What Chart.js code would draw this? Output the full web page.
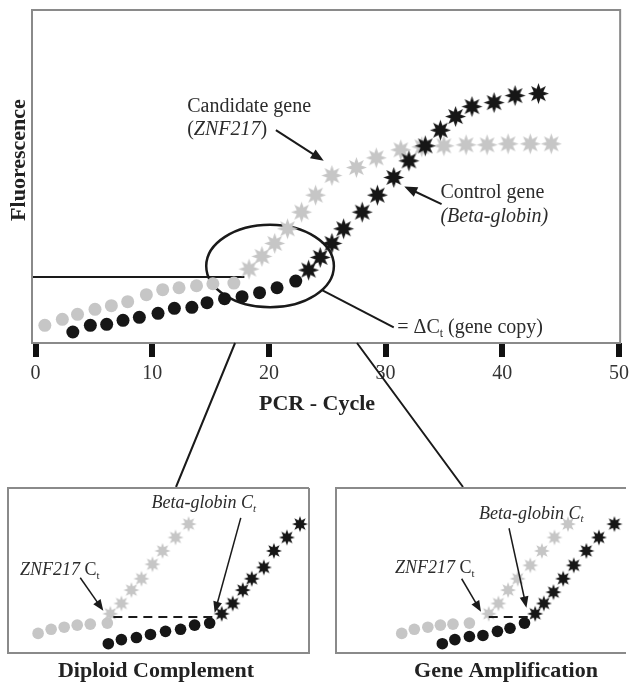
<!DOCTYPE html>
<html>
<head>
<meta charset="utf-8">
<script src="https://cdn.jsdelivr.net/npm/chart.js@4.4.0/dist/chart.umd.min.js"></script>
<style>
  html, body { margin: 0; padding: 0; background: #fff; overflow: hidden; }
  #wrap { position: relative; width: 634px; height: 688px; }
  canvas { position: absolute; }
</style>
</head>
<body>
<div id="wrap">
  <canvas id="mainChart" width="634" height="688" style="left:0;top:0"></canvas>
  <canvas id="diploidChart" width="317" height="208" style="left:0;top:480px"></canvas>
  <canvas id="ampChart" width="314" height="208" style="left:320px;top:480px"></canvas>
</div>
<script>
// ---- main chart data (PCR cycle vs fluorescence, arbitrary units) ----
const xTicks = [0, 10, 20, 30, 40, 50];

const candCircleX = [0.8, 2.3, 3.6, 5.1, 6.5, 7.9, 9.5, 10.9, 12.3, 13.8, 15.2, 17.0];
const candCircleY = [5.3, 7.1, 8.6, 10.1, 11.2, 12.4, 14.5, 16.0, 16.6, 17.2, 17.8, 18.0];
const candStarX = [18.3, 19.4, 20.5, 21.6, 22.8, 24.0, 25.4, 27.5, 29.2, 31.3, 33.1, 35.0, 36.9, 38.7, 40.5, 42.4, 44.2];
const candStarY = [22.2, 26.0, 29.9, 34.3, 39.3, 44.4, 50.3, 52.7, 55.6, 58.0, 58.9, 59.2, 59.5, 59.5, 59.8, 59.8, 59.8];

const ctrlCircleX = [3.2, 4.7, 6.1, 7.5, 8.9, 10.5, 11.9, 13.4, 14.7, 16.2, 17.7, 19.2, 20.7, 22.3];
const ctrlCircleY = [3.3, 5.3, 5.6, 6.8, 7.7, 8.9, 10.4, 10.7, 12.1, 13.3, 13.9, 15.1, 16.6, 18.6];
const ctrlStarX = [23.4, 24.4, 25.4, 26.4, 28.0, 29.3, 30.7, 32.0, 33.4, 34.7, 36.0, 37.4, 39.3, 41.1, 43.1];
const ctrlStarY = [21.9, 25.7, 29.9, 34.3, 39.3, 44.4, 49.7, 54.7, 59.2, 63.9, 68.0, 71.0, 72.2, 74.3, 74.9];

const thresholdY = 19.8;
const thresholdEndX = 17.9;

// ---- inset: diploid complement ----
const dipCandCircleX = [3.0, 4.3, 5.6, 6.9, 8.2, 9.9];
const dipCandCircleY = [1.9, 2.3, 2.5, 2.7, 2.8, 2.9];
const dipCandStarX = [10.2, 11.3, 12.3, 13.3, 14.4, 15.4, 16.7, 18.0];
const dipCandStarY = [3.8, 4.8, 6.1, 7.2, 8.6, 9.9, 11.2, 12.5];
const dipCtrlCircleX = [10.0, 11.3, 12.8, 14.2, 15.7, 17.2, 18.6, 20.1];
const dipCtrlCircleY = [0.9, 1.3, 1.5, 1.8, 2.1, 2.3, 2.7, 2.9];
const dipCtrlStarX = [21.3, 22.4, 23.4, 24.3, 25.5, 26.5, 27.8, 29.1];
const dipCtrlStarY = [3.8, 4.8, 6.1, 7.2, 8.3, 9.9, 11.2, 12.5];

// ---- inset: gene amplification ----
const ampCandCircleX = [6.8, 8.1, 9.5, 10.8, 12.1, 13.8];
const ampCandCircleY = [1.9, 2.3, 2.5, 2.7, 2.8, 2.9];
const ampCandStarX = [15.8, 16.8, 17.8, 18.8, 20.1, 21.3, 22.6, 24.0];
const ampCandStarY = [3.8, 4.8, 6.1, 7.2, 8.5, 9.9, 11.2, 12.5];
const ampCtrlCircleX = [11.0, 12.3, 13.8, 15.2, 16.7, 18.0, 19.5];
const ampCtrlCircleY = [0.9, 1.3, 1.6, 1.7, 2.1, 2.4, 2.9];
const ampCtrlStarX = [20.6, 21.5, 22.5, 23.5, 24.6, 25.9, 27.2, 28.8];
const ampCtrlStarY = [3.8, 4.8, 5.9, 7.2, 8.5, 9.9, 11.2, 12.5];

const FONT = "'Liberation Serif', 'Times New Roman', serif";
const GRAY = "#c6c6c6";
const BLACK = "#161616";
const TEXT = "#2b2b2b";

function makeStar(outer, inner, color) {
  const c = document.createElement("canvas");
  const s = Math.ceil(outer * 2 + 2);
  c.width = s; c.height = s;
  const g = c.getContext("2d");
  g.translate(s / 2, s / 2);
  g.beginPath();
  for (let i = 0; i < 16; i++) {
    const r = i % 2 === 0 ? outer : inner;
    const a = -Math.PI / 2 + i * Math.PI / 8;
    g.lineTo(r * Math.cos(a), r * Math.sin(a));
  }
  g.closePath();
  g.fillStyle = color;
  g.fill();
  return c;
}

const pts = (xs, ys) => xs.map((x, i) => ({ x, y: ys[i] }));

function markers(xs, ys, style, color, radius, order) {
  return {
    data: pts(xs, ys),
    pointStyle: style,
    pointRadius: radius,
    pointBackgroundColor: color,
    pointBorderColor: color,
    pointBorderWidth: 0,
    showLine: false,
    order: order,
    clip: false,
  };
}

// text made of pieces (italic / subscript)
function drawRich(ctx, segs, x, y, size) {
  ctx.textBaseline = "middle";
  ctx.textAlign = "left";
  ctx.fillStyle = TEXT;
  for (const s of segs) {
    const fs = s.sub ? Math.round(size * 0.62) : size;
    ctx.font = (s.italic ? "italic " : "") + fs + "px " + FONT;
    ctx.fillText(s.t, x, y + (s.sub ? size * 0.3 : 0));
    x += ctx.measureText(s.t).width;
  }
}

function arrow(ctx, x1, y1, x2, y2, width, head) {
  const a = Math.atan2(y2 - y1, x2 - x1);
  ctx.strokeStyle = "#1a1a1a";
  ctx.fillStyle = "#1a1a1a";
  ctx.lineWidth = width;
  ctx.beginPath();
  ctx.moveTo(x1, y1);
  ctx.lineTo(x2 - head * 0.8 * Math.cos(a), y2 - head * 0.8 * Math.sin(a));
  ctx.stroke();
  ctx.beginPath();
  ctx.moveTo(x2, y2);
  ctx.lineTo(x2 - head * Math.cos(a - 0.38), y2 - head * Math.sin(a - 0.38));
  ctx.lineTo(x2 - head * Math.cos(a + 0.38), y2 - head * Math.sin(a + 0.38));
  ctx.closePath();
  ctx.fill();
}

// ---------------- main chart ----------------
const bigGrayStar = makeStar(10.5, 5.2, GRAY);
const bigBlackStar = makeStar(10.5, 5.2, BLACK);

// ellipse around the Ct region, in data units
const ringX = 20.1, ringY = 23.1, ringRx = 5.47, ringRy = 12.4;

const mainDecor = {
  id: "mainDecor",
  beforeDatasetsDraw(chart) {
    const { ctx, chartArea: ca, scales: { x, y } } = chart;
    ctx.save();
    // threshold line
    ctx.strokeStyle = "#1a1a1a";
    ctx.lineWidth = 2;
    ctx.beginPath();
    ctx.moveTo(ca.left, y.getPixelForValue(thresholdY));
    ctx.lineTo(x.getPixelForValue(thresholdEndX), y.getPixelForValue(thresholdY));
    ctx.stroke();
    // ellipse
    const cx = x.getPixelForValue(ringX), cy = y.getPixelForValue(ringY);
    const rx = x.getPixelForValue(ringX + ringRx) - cx, ry = cy - y.getPixelForValue(ringY + ringRy);
    ctx.lineWidth = 2.5;
    ctx.beginPath();
    ctx.ellipse(cx, cy, rx, ry, 0, 0, Math.PI * 2);
    ctx.stroke();
    // leader to the delta Ct label
    const t = 0.62;
    ctx.lineWidth = 2;
    ctx.beginPath();
    ctx.moveTo(cx + rx * Math.cos(t), cy + ry * Math.sin(t));
    ctx.lineTo(x.getPixelForValue(30.7), y.getPixelForValue(4.7));
    ctx.stroke();
    ctx.restore();
  },
  afterDraw(chart) {
    const { ctx, chartArea: ca, scales: { x, y } } = chart;
    ctx.save();
    // plot frame
    ctx.strokeStyle = "#8a8a8a";
    ctx.lineWidth = 2;
    ctx.strokeRect(ca.left, ca.top, ca.right - ca.left, ca.bottom - ca.top);

    // connectors down to the two insets
    ctx.strokeStyle = "#1a1a1a";
    ctx.lineWidth = 2;
    ctx.beginPath();
    ctx.moveTo(x.getPixelForValue(17.1), ca.bottom);
    ctx.lineTo(176, 487);
    ctx.moveTo(x.getPixelForValue(27.55), ca.bottom);
    ctx.lineTo(463, 487);
    ctx.stroke();

    // axis titles
    ctx.fillStyle = "#222";
    ctx.font = "bold 22px " + FONT;
    ctx.textAlign = "center";
    ctx.textBaseline = "middle";
    ctx.fillText("PCR - Cycle", 317, 404);
    ctx.save();
    ctx.translate(19, 160);
    ctx.rotate(-Math.PI / 2);
    ctx.fillText("Fluorescence", 0, 0);
    ctx.restore();

    // annotations
    drawRich(ctx, [{ t: "Candidate gene" }], x.getPixelForValue(13.0), y.getPixelForValue(71.0), 20);
    drawRich(ctx, [{ t: "(" }, { t: "ZNF217", italic: true }, { t: ")" }], x.getPixelForValue(13.0), y.getPixelForValue(63.9), 20);
    arrow(ctx, x.getPixelForValue(20.6), y.getPixelForValue(63.9), x.getPixelForValue(24.7), y.getPixelForValue(54.7), 2, 14);

    drawRich(ctx, [{ t: "Control gene" }], x.getPixelForValue(34.7), y.getPixelForValue(45.1), 20);
    drawRich(ctx, [{ t: "(Beta-globin)", italic: true }], x.getPixelForValue(34.7), y.getPixelForValue(37.9), 20);
    arrow(ctx, x.getPixelForValue(34.8), y.getPixelForValue(41.7), x.getPixelForValue(31.6), y.getPixelForValue(47.0), 2, 14);

    drawRich(ctx, [{ t: "= \u0394C" }, { t: "t", sub: true }, { t: " (gene copy)" }], x.getPixelForValue(31.0), y.getPixelForValue(4.7), 20);
    ctx.restore();
  },
};

new Chart(document.getElementById("mainChart"), {
  type: "scatter",
  data: {
    datasets: [
      markers(candCircleX, candCircleY, "circle", GRAY, 6.5, 4),
      markers(candStarX, candStarY, bigGrayStar, GRAY, 10, 3),
      markers(ctrlCircleX, ctrlCircleY, "circle", BLACK, 6.5, 2),
      markers(ctrlStarX, ctrlStarY, bigBlackStar, BLACK, 10, 1),
    ],
  },
  options: {
    responsive: false,
    animation: false,
    layout: { padding: { left: 32, right: 12, top: 5, bottom: 0 } },
    plugins: { legend: { display: false }, tooltip: { enabled: false } },
    scales: {
      x: {
        type: "linear",
        min: -0.3,
        max: 50.1,
        afterFit: (s) => { s.height = 345; },
        afterBuildTicks: (s) => { s.ticks = xTicks.map((v) => ({ value: v })); },
        grid: { drawOnChartArea: false, drawTicks: true, tickLength: 14, tickWidth: 6, lineWidth: 6, tickColor: "#111" },
        border: { display: false },
        ticks: { padding: 5, maxRotation: 0, autoSkip: false, color: "#333", font: { family: FONT, size: 20 } },
      },
      y: { display: false, min: 0, max: 100 },
    },
  },
  plugins: [mainDecor],
});

// ---------------- insets ----------------
const smallGrayStar = makeStar(8, 4, GRAY);
const smallBlackStar = makeStar(8, 4, BLACK);

function insetDecor(cfg) {
  return {
    id: "insetDecor",
    afterDraw(chart) {
      const { ctx, chartArea: ca, scales: { x, y } } = chart;
      ctx.save();
      // frame (right side may run off the page)
      ctx.strokeStyle = "#8a8a8a";
      ctx.lineWidth = 2;
      ctx.beginPath();
      ctx.moveTo(ca.right, ca.top);
      ctx.lineTo(ca.left, ca.top);
      ctx.lineTo(ca.left, ca.bottom);
      ctx.lineTo(ca.right, ca.bottom);
      if (cfg.closed) ctx.lineTo(ca.right, ca.top);
      ctx.stroke();

      // dashed Ct link
      ctx.strokeStyle = "#1a1a1a";
      ctx.setLineDash([9, 6]);
      ctx.beginPath();
      ctx.moveTo(x.getPixelForValue(cfg.dash[0]), y.getPixelForValue(cfg.dashY));
      ctx.lineTo(x.getPixelForValue(cfg.dash[1]), y.getPixelForValue(cfg.dashY));
      ctx.stroke();
      ctx.setLineDash([]);

      drawRich(ctx, [{ t: "ZNF217", italic: true }, { t: " C" }, { t: "t", sub: true }],
        x.getPixelForValue(cfg.znfText[0]), y.getPixelForValue(cfg.znfText[1]), 18);
      drawRich(ctx, [{ t: "Beta-globin C", italic: true }, { t: "t", sub: true, italic: true }],
        x.getPixelForValue(cfg.betaText[0]), y.getPixelForValue(cfg.betaText[1]), 18);
      const a1 = cfg.znfArrow, a2 = cfg.betaArrow;
      arrow(ctx, x.getPixelForValue(a1[0]), y.getPixelForValue(a1[1]), x.getPixelForValue(a1[2]), y.getPixelForValue(a1[3]), 1.5, 12);
      arrow(ctx, x.getPixelForValue(a2[0]), y.getPixelForValue(a2[1]), x.getPixelForValue(a2[2]), y.getPixelForValue(a2[3]), 1.5, 12);

      ctx.fillStyle = "#222";
      ctx.font = "bold 22px " + FONT;
      ctx.textAlign = "center";
      ctx.textBaseline = "middle";
      ctx.fillText(cfg.title, cfg.titleX, 191);
      ctx.restore();
    },
  };
}

function inset(id, sets, padding, cfg) {
  new Chart(document.getElementById(id), {
    type: "scatter",
    data: {
      datasets: [
        markers(sets[0], sets[1], "circle", GRAY, 5.8, 4),
        markers(sets[2], sets[3], smallGrayStar, GRAY, 8, 3),
        markers(sets[4], sets[5], "circle", BLACK, 5.8, 2),
        markers(sets[6], sets[7], smallBlackStar, BLACK, 8, 1),
      ],
    },
    options: {
      responsive: false,
      animation: false,
      layout: { padding: padding },
      plugins: { legend: { display: false }, tooltip: { enabled: false } },
      scales: {
        x: { display: false, min: 0, max: 30 },
        y: { display: false, min: 0, max: 16 },
      },
    },
    plugins: [insetDecor(cfg)],
  });
}

inset("diploidChart",
  [dipCandCircleX, dipCandCircleY, dipCandStarX, dipCandStarY, dipCtrlCircleX, dipCtrlCircleY, dipCtrlStarX, dipCtrlStarY],
  { left: 6, right: 4, top: 7, bottom: 35 },
  {
    closed: true, title: "Diploid Complement", titleX: 156,
    dash: [10.5, 20.6], dashY: 3.5,
    znfText: [1.2, 8.0], betaText: [14.3, 14.5],
    znfArrow: [7.2, 7.3, 9.5, 4.1], betaArrow: [23.2, 13.1, 20.6, 3.9],
  });

inset("ampChart",
  [ampCandCircleX, ampCandCircleY, ampCandStarX, ampCandStarY, ampCtrlCircleX, ampCtrlCircleY, ampCtrlStarX, ampCtrlStarY],
  { left: 16, right: 0, top: 7, bottom: 35 },
  {
    closed: false, title: "Gene Amplification", titleX: 186,
    dash: [15.8, 19.9], dashY: 3.5,
    znfText: [6.1, 8.2], betaText: [14.8, 13.5],
    znfArrow: [13.0, 7.2, 15.0, 4.0], betaArrow: [17.9, 12.1, 19.7, 4.4],
  });
</script>
</body>
</html>
